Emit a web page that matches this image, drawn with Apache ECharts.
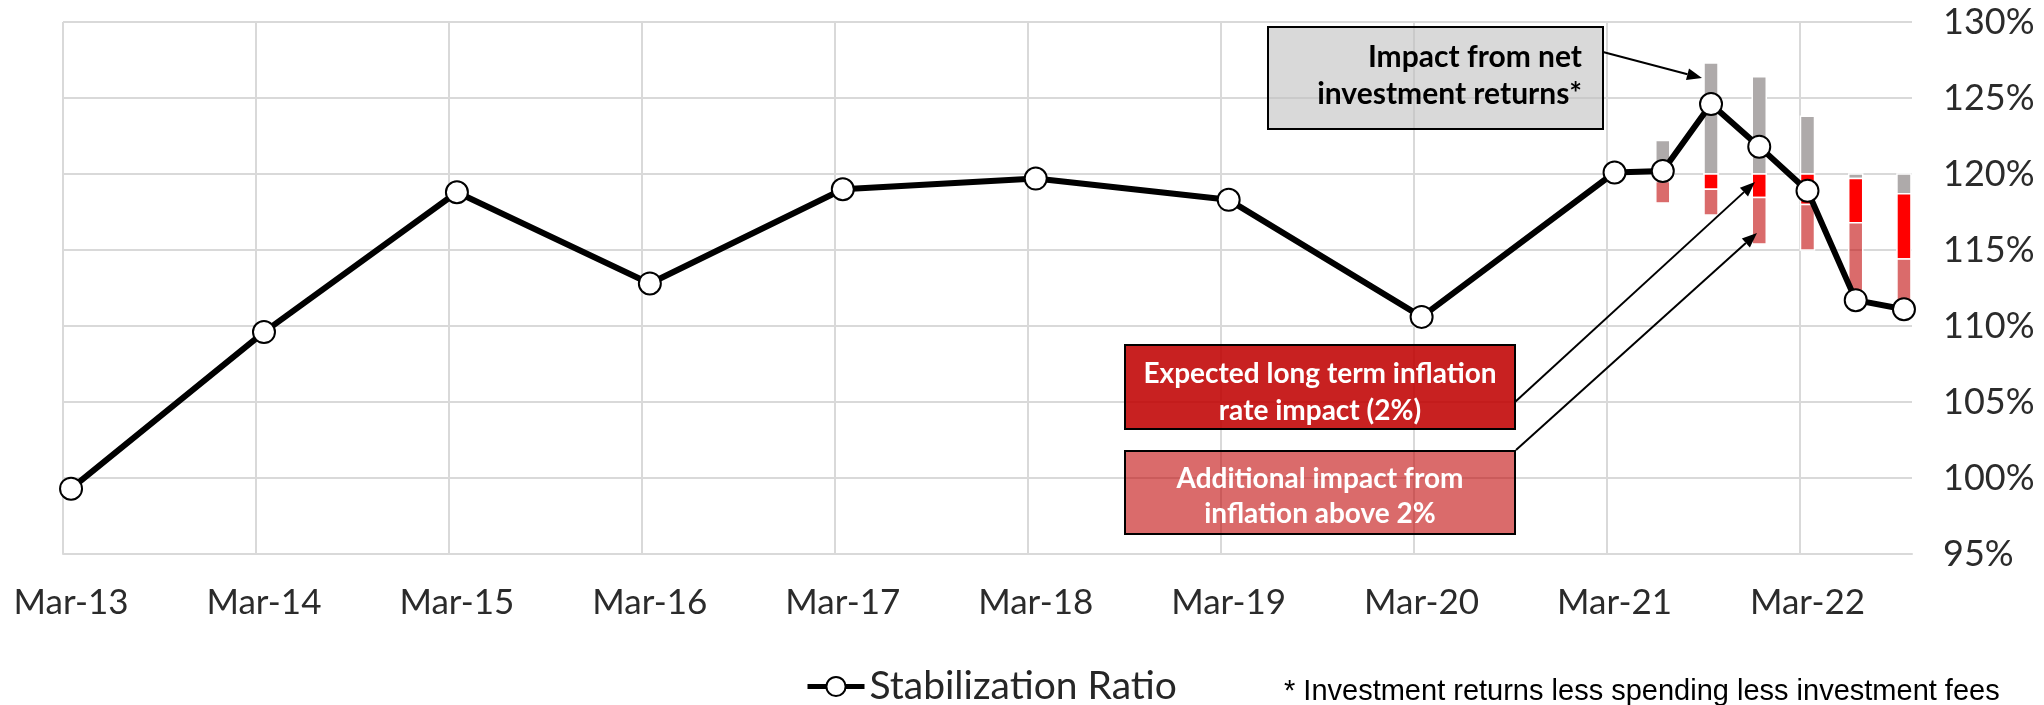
<!DOCTYPE html>
<html>
<head>
<meta charset="utf-8">
<script src="https://cdn.jsdelivr.net/npm/echarts@6/dist/echarts.min.js"></script>
<style>
  html, body { margin: 0; padding: 0; background: #fff; }
  #main { width: 2044px; height: 705px; }
</style>
</head>
<body>
<div id="main"></div>
<script>
// quarter-end readings of the stabilization ratio (%)
var periods = ['Mar-13', 'Mar-14', 'Mar-15', 'Mar-16', 'Mar-17', 'Mar-18', 'Mar-19', 'Mar-20',
  'Mar-21', 'Jun-21', 'Sep-21', 'Dec-21', 'Mar-22', 'Jun-22', 'Sep-22'];
var ratio = [99.3, 109.6, 118.8, 112.8, 119.0, 119.7, 118.3, 110.6,
  120.1, 120.2, 124.6, 121.8, 118.9, 111.7, 111.1];

// waterfall pieces, measured from the 120% starting level
var barPeriods = ['Jun-21', 'Sep-21', 'Dec-21', 'Mar-22', 'Jun-22', 'Sep-22'];
var netReturns = [2.2, 7.3, 6.4, 3.8, -0.3, -1.3];
var inflation2 = [-0.5, -1.0, -1.55, -2.0, -2.9, -4.3];
var inflationExtra = [-1.4, -1.7, -3.05, -3.0, -5.1, -3.4];
var baseLevel = 120;

var xLabels = ['Mar-13', 'Mar-14', 'Mar-15', 'Mar-16', 'Mar-17', 'Mar-18', 'Mar-19', 'Mar-20', 'Mar-21', 'Mar-22'];

var monthNames = ['Jan', 'Feb', 'Mar', 'Apr', 'May', 'Jun', 'Jul', 'Aug', 'Sep', 'Oct', 'Nov', 'Dec'];
// months since Mar-13, placed mid-month like Excel's date axis
function monthPos(p) {
  var m = monthNames.indexOf(p.slice(0, 3));
  var y = parseInt(p.slice(4), 10);
  return (y - 13) * 12 + (m - 2) + 0.5;
}

var font = 'Lato';
var chartDom = document.getElementById('main');
var myChart = echarts.init(chartDom, null, { renderer: 'canvas' });

function pairs(names, vals) {
  return names.map(function (p, i) { return [monthPos(p), vals[i]]; });
}

// stack the waterfall pieces: ups go up from 120%, downs go down (same sign stacking)
var pieceSets = [netReturns, inflation2, inflationExtra];
var pieceColors = ['#aeaaaa', '#ff0000', 'rgba(192,0,0,0.58)'];
var segments = [[], [], []];
barPeriods.forEach(function (p, i) {
  var up = baseLevel, down = baseLevel;
  pieceSets.forEach(function (vals, k) {
    var v = vals[i];
    if (v >= 0) { segments[k].push([monthPos(p), up, up + v]); up += v; }
    else { segments[k].push([monthPos(p), down, down + v]); down += v; }
  });
});

function barRenderer(color) {
  return function (params, api) {
    var x = api.value(0);
    var a = api.coord([x, api.value(1)]);
    var b = api.coord([x, api.value(2)]);
    var w = 14;
    return {
      type: 'rect',
      shape: { x: a[0] - w / 2, y: Math.min(a[1], b[1]), width: w, height: Math.abs(b[1] - a[1]) },
      style: { fill: color, stroke: '#fff', lineWidth: 1.5 }
    };
  };
}

function arrow(x1, y1, x2, y2) {
  var ang = Math.atan2(y2 - y1, x2 - x1);
  var len = 15, half = 6;
  var bx = x2 - len * Math.cos(ang), by = y2 - len * Math.sin(ang);
  return [
    { type: 'line', shape: { x1: x1, y1: y1, x2: bx, y2: by }, style: { stroke: '#000', lineWidth: 2 }, z: 10 },
    { type: 'polygon', shape: { points: [[x2, y2],
      [bx + half * Math.sin(ang), by - half * Math.cos(ang)],
      [bx - half * Math.sin(ang), by + half * Math.cos(ang)]] }, style: { fill: '#000' }, z: 10 }
  ];
}

var pieceNames = ['Net investment returns', 'Inflation 2%', 'Inflation above 2%'];

var option = {
  animation: false,
  grid: { left: 63, right: 132, top: 22, bottom: 151 },
  legend: {
    data: ['Stabilization Ratio'],
    left: 800,
    top: 662,
    itemWidth: 57,
    itemHeight: 24,
    itemGap: 4,
    lineStyle: { width: 5 },
    textStyle: { fontFamily: font, fontSize: 39, color: '#262626' }
  },
  xAxis: {
    type: 'value',
    min: 0,
    max: 115,
    interval: 12,
    axisLine: { show: true, lineStyle: { color: '#d9d9d9', width: 2 } },
    axisTick: { show: false },
    splitLine: { show: true, showMaxLine: false, lineStyle: { color: '#d9d9d9', width: 2 } },
    axisLabel: {
      customValues: xLabels.map(monthPos),
      formatter: function (v) { return xLabels[Math.round((v - 0.5) / 12)]; },
      margin: 31,
      fontFamily: font,
      fontSize: 35,
      color: '#2b2b2b'
    }
  },
  yAxis: {
    type: 'value',
    position: 'right',
    min: 95,
    max: 130,
    interval: 5,
    axisLine: { show: false },
    axisTick: { show: false },
    splitLine: { lineStyle: { color: '#d9d9d9', width: 2 } },
    axisLabel: { formatter: '{value}%', margin: 31, fontFamily: font, fontSize: 36, color: '#2b2b2b' }
  },
  series: pieceNames.map(function (name, k) {
    return {
      name: name,
      type: 'custom',
      renderItem: barRenderer(pieceColors[k]),
      encode: { x: 0, y: [1, 2] },
      data: segments[k],
      z: 2
    };
  }).concat([
    {
      name: 'Stabilization Ratio',
      type: 'line',
      data: pairs(periods, ratio),
      symbol: 'circle',
      symbolSize: 22,
      lineStyle: { color: '#000', width: 6 },
      itemStyle: { color: '#fff', borderColor: '#000', borderWidth: 2 },
      z: 5
    }
  ]),
  graphic: [
    { type: 'rect', shape: { x: 1268, y: 27, width: 335, height: 102 },
      style: { fill: 'rgba(191,191,191,0.6)', stroke: '#000', lineWidth: 2 }, z: 9 },
    { type: 'text', x: 1582, y: 76, z: 11,
      style: { text: 'Impact from net\ninvestment returns*', align: 'right', verticalAlign: 'middle',
        font: 'bold 30px Lato', lineHeight: 37, fill: '#000' } },
    { type: 'rect', shape: { x: 1125, y: 345, width: 390, height: 84 },
      style: { fill: 'rgba(192,0,0,0.87)', stroke: '#000', lineWidth: 2 }, z: 9 },
    { type: 'text', x: 1320, y: 392, z: 11,
      style: { text: 'Expected long term inflation\nrate impact (2%)', align: 'center', verticalAlign: 'middle',
        font: 'bold 28px Lato', lineHeight: 37, fill: '#fff' } },
    { type: 'rect', shape: { x: 1125, y: 451, width: 390, height: 83 },
      style: { fill: 'rgba(192,0,0,0.58)', stroke: '#000', lineWidth: 2 }, z: 9 },
    { type: 'text', x: 1320, y: 496, z: 11,
      style: { text: 'Additional impact from\ninflation above 2%', align: 'center', verticalAlign: 'middle',
        font: 'bold 28px Lato', lineHeight: 35, fill: '#fff' } },
    { type: 'text', x: 1284, y: 692, z: 11,
      style: { text: '* Investment returns less spending less investment fees', align: 'left', verticalAlign: 'middle',
        font: '29px "Liberation Sans"', fill: '#000' } }
  ].concat(arrow(1603, 52, 1702, 78))
   .concat(arrow(1515, 402, 1755, 182))
   .concat(arrow(1516, 450, 1757, 233))
};

option && myChart.setOption(option);
</script>
</body>
</html>
